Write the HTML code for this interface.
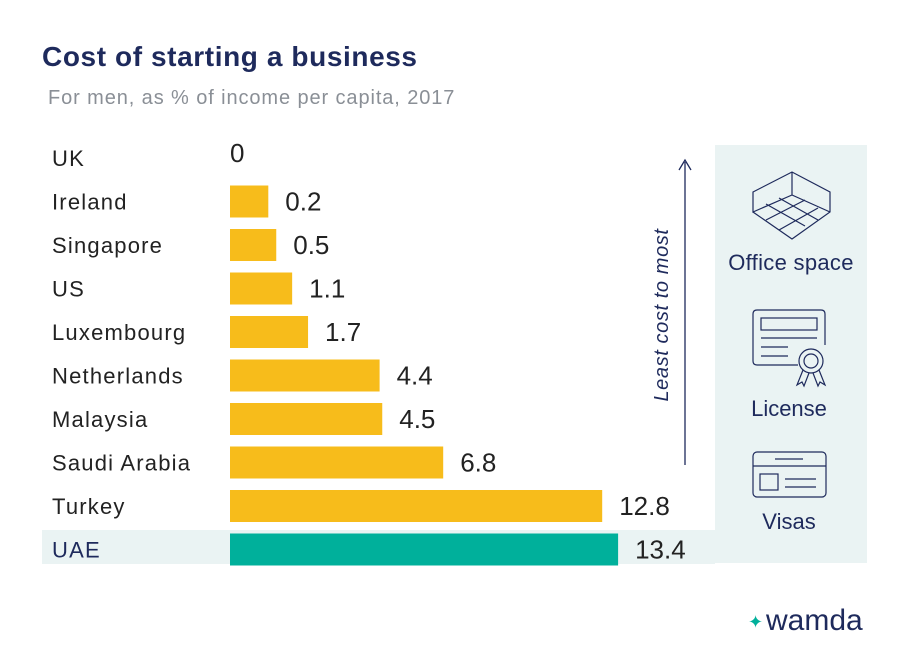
<!DOCTYPE html>
<html><head><meta charset="utf-8"><style>
body{margin:0;background:#fff;}
svg text{font-family:"Liberation Sans","DejaVu Sans",sans-serif;}
</style></head><body>
<svg width="920" height="656" viewBox="0 0 920 656" xmlns="http://www.w3.org/2000/svg">
<text x="42" y="66" font-size="28" font-weight="bold" fill="#1e2a5c" letter-spacing="0.6">Cost of starting a business</text>
<text x="48" y="104" font-size="20" fill="#8a8f96" letter-spacing="0.9">For men, as % of income per capita, 2017</text>
<rect x="715" y="145" width="152" height="418" fill="#eaf3f3"/>
<rect x="42" y="530" width="673" height="34" fill="#eaf3f3"/>
<g>
<line x1="685" y1="162" x2="685" y2="465" stroke="#1e2a5c" stroke-width="1.3"/>
<polyline points="679,170 685,160 691,170" fill="none" stroke="#1e2a5c" stroke-width="1.3"/>
<text transform="translate(668,315) rotate(-90)" text-anchor="middle" font-size="20" font-style="italic" letter-spacing="0.6" fill="#1e2a5c">Least cost to most</text>
</g>
<g fill="none" stroke="#1e2a5c" stroke-width="1.2">
<path d="M753,192 L792,172 L830,192 L830,212 L792,239 L753,212 Z M792,172 L792,195 M753,192 L753,212 L792,195 L830,212"/>
<path d="M766,204 L805,226 M779,198 L818,220 M766,220 L805,200 M779,230 L818,208"/>
</g>
<text x="791" y="270" text-anchor="middle" font-size="22" fill="#1e2a5c" letter-spacing="0.3">Office space</text>
<g fill="none" stroke="#1e2a5c" stroke-width="1.2">
<path d="M798,365 L757,365 Q753,365 753,361 L753,314 Q753,310 757,310 L821,310 Q825,310 825,314 L825,345"/>
<rect x="761" y="318" width="56" height="12"/>
<line x1="761" y1="338" x2="817" y2="338"/><line x1="761" y1="347" x2="788" y2="347"/><line x1="761" y1="356" x2="788" y2="356"/>
<circle cx="811" cy="361" r="12"/><circle cx="811" cy="361" r="7"/>
<path d="M803,370 L797,385 L802,382 L804,386 L809,373 M813,373 L818,386 L820,382 L825,385 L819,370"/>
</g>
<text x="789" y="416" text-anchor="middle" font-size="22" fill="#1e2a5c">License</text>
<g fill="none" stroke="#1e2a5c" stroke-width="1.2">
<rect x="753" y="452" width="73" height="45" rx="4"/>
<line x1="753" y1="466" x2="826" y2="466"/><line x1="775" y1="459" x2="803" y2="459"/>
<rect x="760" y="474" width="18" height="16"/>
<line x1="785" y1="479" x2="816" y2="479"/><line x1="785" y1="487" x2="816" y2="487"/>
</g>
<text x="789" y="529" text-anchor="middle" font-size="22" fill="#1e2a5c">Visas</text>
<g id="bars"></g>
<g>
<text x="748" y="628" font-size="18" fill="#00b09b">✦</text>
<text x="766" y="630" font-size="30" fill="#1e2a5c">wamda</text>
</g>
</svg>
<script>
const categories=["UK","Ireland","Singapore","US","Luxembourg","Netherlands","Malaysia","Saudi Arabia","Turkey","UAE"];
const values=[0,0.2,0.5,1.1,1.7,4.4,4.5,6.8,12.8,13.4];
const labels=["0","0.2","0.5","1.1","1.7","4.4","4.5","6.8","12.8","13.4"];
const NS="http://www.w3.org/2000/svg";
const x0=230;
function xScale(v){return v<=0?0:33+26.5*v;}
function yScale(i){return 158+i*43.5;}
const g=document.getElementById('bars');
categories.forEach((c,i)=>{
  const yc=yScale(i);
  const hl=c==="UAE";
  const t=document.createElementNS(NS,'text');
  
  
  t.setAttribute('x',52);t.setAttribute('y',yc+8);t.setAttribute('font-size','22');
  t.setAttribute('fill',hl?'#1e2a5c':'#222');t.setAttribute('letter-spacing','1.2');
  t.textContent=c;g.appendChild(t);
  const w=xScale(values[i]);
  if(w>0){
    const r=document.createElementNS(NS,'rect');
    
    
    r.setAttribute('x',x0);r.setAttribute('y',yc-16);r.setAttribute('width',w);r.setAttribute('height',32);
    r.setAttribute('fill',hl?'#00b09b':'#f7bc1b');g.appendChild(r);
  }
  const v=document.createElementNS(NS,'text');
  
  
  v.setAttribute('x',x0+w+(w>0?17:0));v.setAttribute('y',yc+(w>0?9:4));v.setAttribute('font-size','26');
  v.setAttribute('fill','#222');v.textContent=labels[i];g.appendChild(v);
});
</script>
</body></html>
